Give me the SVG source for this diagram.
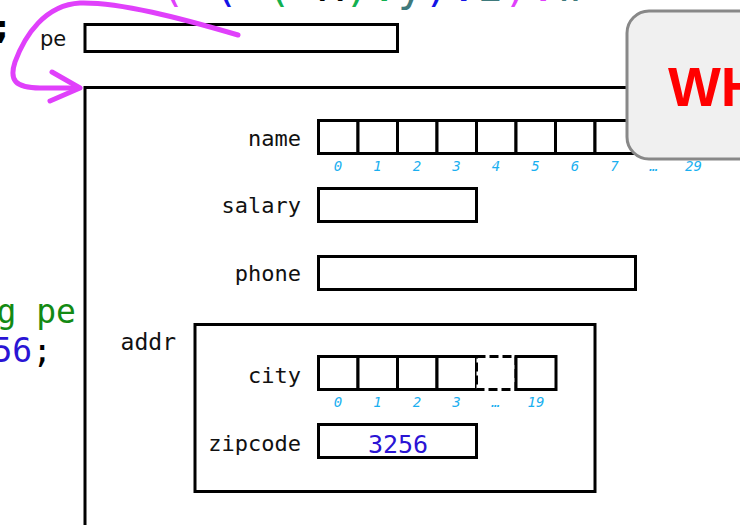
<svg xmlns="http://www.w3.org/2000/svg" width="740" height="525" viewBox="0 0 740 525">
  <style>
    .box { fill: #ffffff; stroke: #000000; stroke-width: 3; }
    .dash { fill: #ffffff; stroke: #000000; stroke-width: 3; stroke-dasharray: 9 4; }
    .lbl { font-family: "DejaVu Sans Mono", monospace; font-size: 22px; fill: #111111; text-anchor: end; }
    .idx { font-family: "DejaVu Sans Mono", monospace; font-size: 14px; font-style: italic; fill: #1aaff0; text-anchor: middle; }
    .code { font-family: "DejaVu Sans Mono", monospace; font-size: 33px; }
    .top { font-family: "DejaVu Sans Mono", monospace; font-size: 44px; }
    .val { font-family: "DejaVu Sans Mono", monospace; font-size: 25px; fill: #2a14d4; text-anchor: middle; }
  </style>

  <rect width="740" height="525" fill="#ffffff"/>

  <!-- code fragments clipped by frame -->
  <g id="code">
    <text class="top" x="159" y="1"><tspan fill="#e040fb">(*</tspan><tspan fill="#1414e6">(*</tspan><tspan fill="#12b050">(*</tspan><tspan fill="#000000">x</tspan><tspan fill="#12b050">).</tspan><tspan fill="#3f7a7c">y</tspan><tspan fill="#1414e6">).</tspan><tspan fill="#3f7a7c">z</tspan><tspan fill="#e040fb">).</tspan><tspan fill="#3f7a7c">w</tspan></text>
    <text class="code" x="12" y="38" text-anchor="end" fill="#000000" font-weight="bold">;</text>
    <text class="code" x="76" y="323" text-anchor="end" fill="#138a13">g pe</text>
    <text class="code" x="52" y="362" text-anchor="end"><tspan fill="#2a14d4">56</tspan><tspan fill="#000000">;</tspan></text>
  </g>

  <!-- pe pointer variable -->
  <g id="node-pe">
    <text x="40" y="46" font-family="DejaVu Sans, sans-serif" font-size="21" fill="#111111">pe</text>
    <rect class="box" x="85" y="24.5" width="312.5" height="27"/>
  </g>

  <!-- struct -->
  <g id="node-struct">
    <rect class="box" x="85" y="87.5" width="700" height="480"/>
  </g>

  <g id="node-name">
    <text class="lbl" x="301" y="146">name</text>
    <rect class="box" x="318.5" y="120.5" width="39.5" height="33"/>
    <rect class="box" x="358" y="120.5" width="39.5" height="33"/>
    <rect class="box" x="397.5" y="120.5" width="39.5" height="33"/>
    <rect class="box" x="437" y="120.5" width="39.5" height="33"/>
    <rect class="box" x="476.5" y="120.5" width="39.5" height="33"/>
    <rect class="box" x="516" y="120.5" width="39.5" height="33"/>
    <rect class="box" x="555.5" y="120.5" width="39.5" height="33"/>
    <rect class="box" x="595" y="120.5" width="39.5" height="33"/>
    <rect class="dash" x="634.5" y="120.5" width="39.5" height="33"/>
    <rect class="box" x="674" y="120.5" width="39.5" height="33"/>
    <text class="idx" x="338" y="171">0</text>
    <text class="idx" x="377.5" y="171">1</text>
    <text class="idx" x="417" y="171">2</text>
    <text class="idx" x="456.5" y="171">3</text>
    <text class="idx" x="496" y="171">4</text>
    <text class="idx" x="535.5" y="171">5</text>
    <text class="idx" x="575" y="171">6</text>
    <text class="idx" x="614.5" y="171">7</text>
    <text class="idx" x="654" y="171">…</text>
    <text class="idx" x="693.5" y="171">29</text>
  </g>

  <g id="node-salary">
    <text class="lbl" x="301" y="213">salary</text>
    <rect class="box" x="318.5" y="188.5" width="158" height="33"/>
  </g>

  <g id="node-phone">
    <text class="lbl" x="301" y="281">phone</text>
    <rect class="box" x="318.5" y="256.5" width="317" height="33"/>
  </g>

  <g id="node-addr">
    <text class="lbl" x="176" y="350" style="font-size:23px">addr</text>
    <rect class="box" x="195" y="324.5" width="400" height="167"/>
  </g>

  <g id="node-city">
    <text class="lbl" x="301" y="383">city</text>
    <rect class="box" x="318.5" y="356.5" width="39.5" height="33"/>
    <rect class="box" x="358" y="356.5" width="39.5" height="33"/>
    <rect class="box" x="397.5" y="356.5" width="39.5" height="33"/>
    <rect class="box" x="437" y="356.5" width="39.5" height="33"/>
    <rect class="dash" x="476.5" y="356.5" width="39.5" height="33"/>
    <rect class="box" x="516" y="356.5" width="40" height="33"/>
    <text class="idx" x="338" y="407">0</text>
    <text class="idx" x="377.5" y="407">1</text>
    <text class="idx" x="417" y="407">2</text>
    <text class="idx" x="456.5" y="407">3</text>
    <text class="idx" x="496" y="407">…</text>
    <text class="idx" x="536" y="407">19</text>
  </g>

  <g id="node-zipcode">
    <text class="lbl" x="301" y="451">zipcode</text>
    <rect class="box" x="318.5" y="424.5" width="158" height="33"/>
    <text class="val" x="398" y="453">3256</text>
  </g>

  <!-- connectors -->
  <g id="connectors" fill="none" stroke="#e040fb" stroke-width="5" stroke-linecap="round" stroke-linejoin="round">
    <path d="M238,35 C180,18 120,2 80,3 C45,5 25,35 15,62 C9,80 15,88 40,88 L78,88"/>
    <path d="M52,72 L80,88 L50,101"/>
  </g>

  <!-- callout -->
  <g id="node-callout">
    <rect x="627" y="11" width="160" height="148" rx="22" ry="22" fill="#f0f0f0" stroke="#888888" stroke-width="3"/>
    <text x="668" y="106" font-family="Liberation Sans, sans-serif" font-weight="bold" font-size="56" fill="#ff0000">WH</text>
  </g>
</svg>
